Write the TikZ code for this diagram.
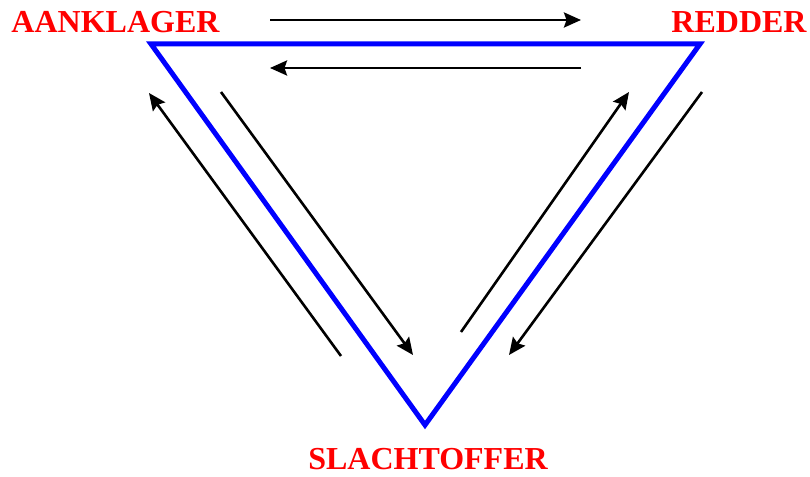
\documentclass[tikz,border=0pt]{standalone}
\usepackage{fontspec}
\setmainfont{Liberation Serif}
\usepackage{tikz}
\usetikzlibrary{arrows.meta, positioning}

\begin{document}
\begin{tikzpicture}[
            x=1pt, y=-1pt,
            role/.style={text=red, font=\fontsize{32}{36}\selectfont\bfseries, inner sep=0pt, anchor=base},
            flow/.style={->, line width=2.6pt},
            >={Stealth[length=17pt, width=15pt, inset=2.5pt]}]

        \useasboundingbox (0,0) rectangle (810,476);

        % roles
        \node[role] (A) at (115.5,33) {AANKLAGER};
        \node[role] (R) at (739,33) {REDDER};
        \node[role] (S) at (428,469) {SLACHTOFFER};

        % triangle
        \coordinate (tA) at (151,44);
        \coordinate (tR) at (700,44);
        \coordinate (tS) at (425,425);
        \draw[blue, line width=5pt, line join=miter] (tA) -- (tR) -- (tS) -- cycle;

        % arrow ends
        \coordinate (a1) at (270,20);  \coordinate (b1) at (581,20);
        \coordinate (a2) at (581,68);  \coordinate (b2) at (270,68);
        \coordinate (a3) at (341,356); \coordinate (b3) at (149,93);
        \coordinate (a4) at (221,92);  \coordinate (b4) at (413,355);
        \coordinate (a5) at (461,332); \coordinate (b5) at (629,92);
        \coordinate (a6) at (702,92);  \coordinate (b6) at (509,355);

        \foreach \i in {1,...,6}
            \draw[flow] (a\i) -- (b\i);

    \end{tikzpicture}
\end{document}
